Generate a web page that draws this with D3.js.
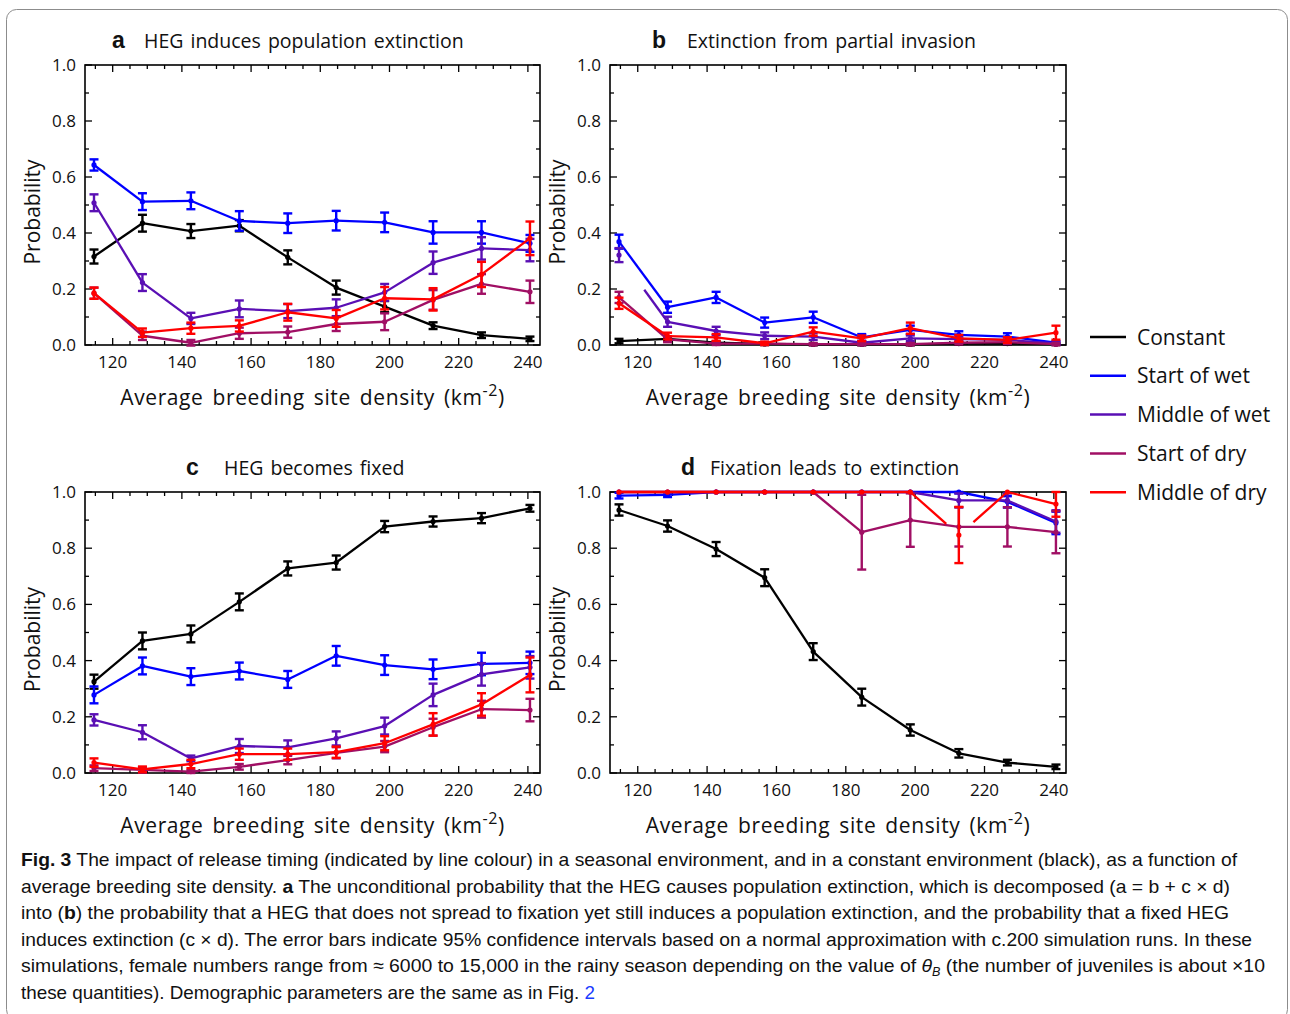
<!DOCTYPE html>
<html><head><meta charset="utf-8">
<script src="https://cdn.jsdelivr.net/npm/d3@7/dist/d3.min.js"></script>
<style>
html,body{margin:0;padding:0;background:#fff;}
svg text{font-family:"Open Sans","Noto Sans",sans-serif;fill:#111;}
</style></head>
<body><svg id="chart" width="1290" height="1014"></svg>
<script>
// ---------------- DATA ----------------
const xValues = [114.6,128.6,142.6,156.6,170.6,184.6,198.6,212.6,226.6,240.6];
const seriesNames = ["Constant","Start of wet","Middle of wet","Start of dry","Middle of dry"];
const xTicks = [120,140,160,180,200,220,240];
const yTicks = [0.0,0.2,0.4,0.6,0.8,1.0];
const panelLetters = ["a","b","c","d"];
const panelTitles = ["HEG induces population extinction","Extinction from partial invasion","HEG becomes fixed","Fixation leads to extinction"];

// panel a
const aConstant  = [0.316,0.435,0.407,0.426,0.313,0.205,0.137,0.069,0.035,0.022];
const aStartWet  = [0.643,0.512,0.515,0.443,0.435,0.444,0.438,0.402,0.402,0.363];
const aMidWet    = [0.508,0.223,0.095,0.129,0.121,0.133,0.188,0.294,0.345,0.339];
const aStartDry  = [0.185,0.033,0.008,0.042,0.046,0.075,0.083,0.161,0.218,0.190];
const aMidDry    = [0.185,0.044,0.060,0.068,0.117,0.095,0.167,0.163,0.252,0.381];
const aConstantErr = [0.025,0.03,0.025,0.02,0.025,0.025,0.02,0.012,0.01,0.008];
const aStartWetErr = [0.02,0.03,0.03,0.035,0.035,0.035,0.035,0.04,0.04,0.03];
const aMidWetErr   = [0.03,0.03,0.02,0.03,0.025,0.03,0.03,0.04,0.04,0.04];
const aStartDryErr = [0.02,0.015,0.01,0.02,0.02,0.025,0.03,0.035,0.035,0.04];
const aMidDryErr   = [0.02,0.015,0.02,0.02,0.03,0.03,0.04,0.04,0.045,0.06];

// panel b
const bConstant  = [0.014,0.022,0.008,0.004,0.002,0.002,0.002,0.005,0.005,0.003];
const bStartWet  = [0.369,0.135,0.170,0.080,0.099,0.027,0.054,0.036,0.030,0.008];
const bMidWet    = [0.321,0.083,0.050,0.033,0.030,0.008,0.024,0.021,0.018,0.006];
const bStartDry  = [0.170,0.020,0.005,0.005,0.003,0.003,0.003,0.008,0.010,0.003];
const bMidDry    = [0.149,0.032,0.027,0.006,0.048,0.024,0.060,0.024,0.018,0.044];
const bConstantErr = [0.008,0.008,0.005,0.004,0.003,0.003,0.003,0.004,0.004,0.003];
const bStartWetErr = [0.025,0.02,0.02,0.018,0.02,0.012,0.015,0.013,0.012,0.006];
const bMidWetErr   = [0.025,0.018,0.015,0.012,0.012,0.006,0.01,0.01,0.009,0.005];
const bStartDryErr = [0.02,0.01,0.005,0.005,0.004,0.004,0.004,0.006,0.007,0.004];
const bMidDryErr   = [0.02,0.012,0.012,0.006,0.015,0.01,0.02,0.012,0.01,0.025];

// panel c
const cConstant  = [0.325,0.470,0.495,0.609,0.728,0.749,0.877,0.895,0.907,0.942];
const cStartWet  = [0.278,0.381,0.343,0.363,0.333,0.417,0.384,0.369,0.388,0.392];
const cMidWet    = [0.189,0.145,0.052,0.096,0.091,0.123,0.167,0.278,0.351,0.376];
const cStartDry  = [0.017,0.011,0.005,0.022,0.046,0.072,0.094,0.163,0.227,0.224];
const cMidDry    = [0.037,0.013,0.032,0.067,0.067,0.074,0.106,0.173,0.244,0.349];
const cConstantErr = [0.025,0.03,0.03,0.03,0.025,0.025,0.02,0.018,0.018,0.012];
const cStartWetErr = [0.03,0.03,0.03,0.03,0.03,0.035,0.035,0.035,0.04,0.04];
const cMidWetErr   = [0.02,0.025,0.01,0.025,0.025,0.025,0.03,0.04,0.04,0.04];
const cStartDryErr = [0.01,0.01,0.005,0.01,0.015,0.02,0.02,0.03,0.03,0.04];
const cMidDryErr   = [0.015,0.01,0.015,0.02,0.02,0.02,0.025,0.04,0.04,0.062];

// panel d
const dConstant  = [0.936,0.879,0.797,0.695,0.432,0.270,0.153,0.070,0.037,0.022];
const dStartWet  = [0.987,0.990,1,1,1,1,1,1,0.965,0.890];
const dMidWet    = [1,1,1,1,1,1,1,0.970,0.970,0.895];
const dStartDry  = [1,1,1,1,1,0.857,0.900,0.876,0.876,0.857];
const dMidDry    = [1,1,1,1,1,1,1,0.847,1,0.957];
const dConstantErr = [0.02,0.02,0.025,0.03,0.03,0.03,0.02,0.015,0.01,0.008];
const dStartWetErr = [0.01,0.008,0,0,0,0,0,0.005,0.02,0.04];
const dMidWetErr   = [0,0,0,0,0,0,0,0.025,0.025,0.04];
const dStartDryErr = [0,0,0,0,0,0.133,0.095,0.07,0.07,0.075];
const dMidDryErr   = [0,0,0,0,0,0,0,0.1,0,0.045];

// partially drawn segments in the original: [panel, series, segment, fromFrac, toFrac]
const partialSegments = [[1,2,0,0.52,1],[3,4,6,0,0.74],[3,4,7,0.3,1]];

const captionLines = [
  [["b","Fig. 3"],["r","  The impact of release timing (indicated by line colour) in a seasonal environment, and in a constant environment (black), as a function of"]],
  [["r","average breeding site density. "],["b","a"],["r"," The unconditional probability that the HEG causes population extinction, which is decomposed (a = b + c × d)"]],
  [["r","into ("],["b","b"],["r",") the probability that a HEG that does not spread to fixation yet still induces a population extinction, and the probability that a fixed HEG"]],
  [["r","induces extinction (c × d). The error bars indicate 95% confidence intervals based on a normal approximation with c.200 simulation runs. In these"]],
  [["r","simulations, female numbers range from ≈ 6000 to 15,000 in the rainy season depending on the value of "],["i","θ"],["sub","B"],["r"," (the number of juveniles is about ×10"]],
  [["r","these quantities). Demographic parameters are the same as in Fig. "],["link","2"]]
];

// ---------------- LAYOUT ----------------
const colors = ["#000000","#0000ff","#5a0fb4","#a00f64","#ff0000"];
const panels = [
  {left:85, top:65, w:455, h:280, series:[aConstant,aStartWet,aMidWet,aStartDry,aMidDry], errs:[aConstantErr,aStartWetErr,aMidWetErr,aStartDryErr,aMidDryErr], letterDx:27, titleDx:59},
  {left:610, top:65, w:456, h:280, series:[bConstant,bStartWet,bMidWet,bStartDry,bMidDry], errs:[bConstantErr,bStartWetErr,bMidWetErr,bStartDryErr,bMidDryErr], letterDx:42, titleDx:77},
  {left:85, top:492, w:455, h:281, series:[cConstant,cStartWet,cMidWet,cStartDry,cMidDry], errs:[cConstantErr,cStartWetErr,cMidWetErr,cStartDryErr,cMidDryErr], letterDx:101, titleDx:139},
  {left:610, top:492, w:456, h:281, series:[dConstant,dStartWet,dMidWet,dStartDry,dMidDry], errs:[dConstantErr,dStartWetErr,dMidWetErr,dStartDryErr,dMidDryErr], letterDx:71, titleDx:100}
];

const svg = d3.select("#chart");

// outer rounded border
svg.append("rect").attr("x",6.5).attr("y",9.5).attr("width",1281).attr("height",1010)
  .attr("rx",10).attr("fill","none").attr("stroke","#8c8c8c").attr("stroke-width",1);

panels.forEach((p,pi)=>{
  const g = svg.append("g").attr("transform",`translate(${p.left},${p.top})`);
  const x = d3.scaleLinear().domain([112,243.5]).range([0,p.w]);
  const y = d3.scaleLinear().domain([0,1]).range([p.h,0]);

  // frame
  g.append("rect").attr("x",0).attr("y",0).attr("width",p.w).attr("height",p.h)
    .attr("fill","none").attr("stroke","#000").attr("stroke-width",1.6);

  // ticks (inward, all four sides)
  const xMinor = d3.range(115,243,5).filter(v=>v%20!==0);
  const yMinor = d3.range(0.1,1.0,0.2);
  const tk = g.append("g").attr("stroke","#000").attr("stroke-width",1.3);
  xTicks.forEach(v=>{
    tk.append("line").attr("x1",x(v)).attr("x2",x(v)).attr("y1",p.h).attr("y2",p.h-7);
    tk.append("line").attr("x1",x(v)).attr("x2",x(v)).attr("y1",0).attr("y2",7);
  });
  xMinor.forEach(v=>{
    tk.append("line").attr("x1",x(v)).attr("x2",x(v)).attr("y1",p.h).attr("y2",p.h-4);
    tk.append("line").attr("x1",x(v)).attr("x2",x(v)).attr("y1",0).attr("y2",4);
  });
  yTicks.forEach(v=>{
    tk.append("line").attr("x1",0).attr("x2",7).attr("y1",y(v)).attr("y2",y(v));
    tk.append("line").attr("x1",p.w).attr("x2",p.w-7).attr("y1",y(v)).attr("y2",y(v));
  });
  yMinor.forEach(v=>{
    tk.append("line").attr("x1",0).attr("x2",4).attr("y1",y(v)).attr("y2",y(v));
    tk.append("line").attr("x1",p.w).attr("x2",p.w-4).attr("y1",y(v)).attr("y2",y(v));
  });

  // tick labels
  g.selectAll(".xl").data(xTicks).enter().append("text")
    .attr("x",d=>x(d)).attr("y",p.h+23).attr("text-anchor","middle")
    .attr("font-size",17).text(d=>d);
  g.selectAll(".yl").data(yTicks).enter().append("text")
    .attr("x",-9).attr("y",d=>y(d)+6).attr("text-anchor","end")
    .attr("font-size",17).text(d=>d.toFixed(1));

  // axis titles
  const xt = g.append("text").attr("x",p.w/2).attr("y",p.h+60).attr("text-anchor","middle")
    .attr("font-size",21).attr("letter-spacing",0.6).attr("word-spacing",3);
  xt.append("tspan").text("Average breeding site density (km");
  xt.append("tspan").attr("dy",-9).attr("font-size",16).text("-2");
  xt.append("tspan").attr("dy",9).text(")");
  g.append("text").attr("transform",`translate(-45,${p.h/2+7}) rotate(-90)`)
    .attr("text-anchor","middle").attr("font-size",21).text("Probability");

  // panel title
  g.append("text").attr("x",p.letterDx).attr("y",-17).attr("font-size",23)
    .attr("font-weight","bold").style("font-family","'Liberation Sans',Arial,sans-serif").text(panelLetters[pi]);
  g.append("text").attr("x",p.titleDx).attr("y",-17).attr("font-size",19.5).attr("word-spacing",2).text(panelTitles[pi]);

  // series
  p.series.forEach((vals,si)=>{
    const c = colors[si];
    const sg = g.append("g");
    const errs = p.errs[si];
    // error bars
    vals.forEach((v,i)=>{
      const e = errs[i];
      if(e<=0) return;
      const px = x(xValues[i]);
      const y1 = y(Math.min(1,v+e)), y0 = y(v-e);
      sg.append("line").attr("x1",px).attr("x2",px).attr("y1",y1).attr("y2",y0).attr("stroke",c).attr("stroke-width",2.4);
      sg.append("line").attr("x1",px-4.5).attr("x2",px+4.5).attr("y1",y1).attr("y2",y1).attr("stroke",c).attr("stroke-width",2.4);
      sg.append("line").attr("x1",px-4.5).attr("x2",px+4.5).attr("y1",y0).attr("y2",y0).attr("stroke",c).attr("stroke-width",2.4);
    });
    // line segments
    for(let i=0;i<vals.length-1;i++){
      let f0=0,f1=1;
      partialSegments.forEach(ps=>{ if(ps[0]===pi && ps[1]===si && ps[2]===i){f0=ps[3];f1=ps[4];} });
      const xa=x(xValues[i]), ya=y(vals[i]), xb=x(xValues[i+1]), yb=y(vals[i+1]);
      sg.append("line")
        .attr("x1",xa+(xb-xa)*f0).attr("y1",ya+(yb-ya)*f0)
        .attr("x2",xa+(xb-xa)*f1).attr("y2",ya+(yb-ya)*f1)
        .attr("stroke",c).attr("stroke-width",2.3).attr("stroke-linecap","butt");
    }
    // markers
    sg.selectAll("circle").data(vals).enter().append("circle")
      .attr("cx",(d,i)=>x(xValues[i])).attr("cy",d=>y(d)).attr("r",2.6).attr("fill",c);
  });
});

// legend
const lg = svg.append("g");
seriesNames.forEach((n,i)=>{
  const yy = 337 + i*38.8;
  lg.append("line").attr("x1",1090).attr("x2",1126).attr("y1",yy).attr("y2",yy)
    .attr("stroke",colors[i]).attr("stroke-width",2.5);
  lg.append("text").attr("x",1137).attr("y",yy+7.5).attr("font-size",21).text(n);
});

// caption
const capWidths = [1216,1209,1208,1231,1244,574];
captionLines.forEach((line,li)=>{
  const t = svg.append("text").attr("x",21).attr("y",866+li*26.6)
    .attr("font-size",18.5)
    .style("font-family","'Liberation Sans Narrow','Arial Narrow','Liberation Sans',sans-serif")
    .attr("textLength",capWidths[li]).attr("lengthAdjust","spacingAndGlyphs");
  line.forEach(seg=>{
    const s = t.append("tspan").text(seg[1]);
    if(seg[0]==="b") s.attr("font-weight","bold");
    if(seg[0]==="i") s.attr("font-style","italic");
    if(seg[0]==="sub") s.attr("font-size",12).attr("font-style","italic").attr("dy",4);
    if(seg[0]==="link") s.style("fill","#1a3cff");
    if(seg[0]==="r" && li===4 && seg[1].startsWith(" (the")) s.attr("dy",-4);
  });
});
</script></body></html>
